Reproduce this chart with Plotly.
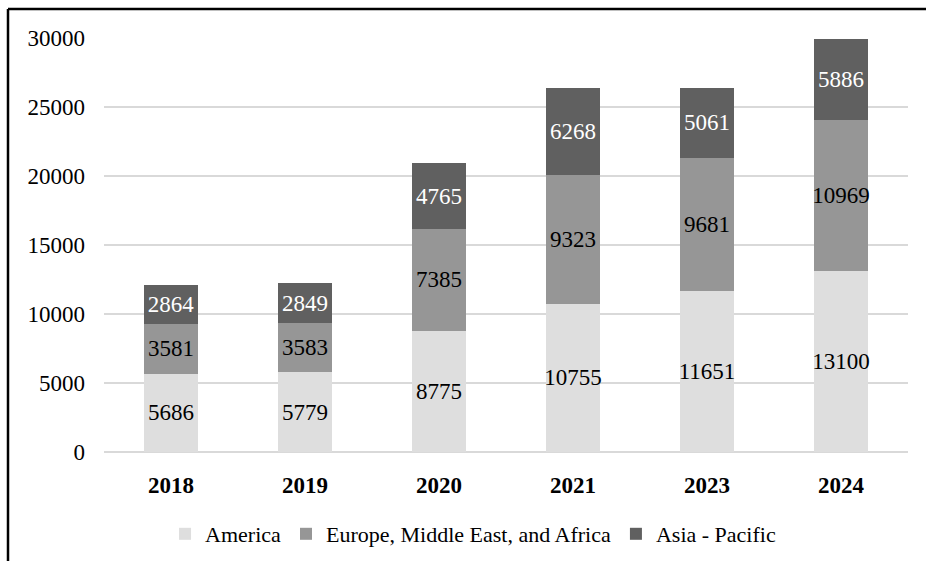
import plotly.graph_objects as go

years = ["2018", "2019", "2020", "2021", "2023", "2024"]
america = [5686, 5779, 8775, 10755, 11651, 13100]
emea = [3581, 3583, 7385, 9323, 9681, 10969]
apac = [2864, 2849, 4765, 6268, 5061, 5886]
y_ticks = [0, 5000, 10000, 15000, 20000, 25000, 30000]
y_tick_text = ["0", "5000", "10000", "15000", "20000", "25000", "30000"]

series = [
    ("America", america, "#dedede", "#000000"),
    ("Europe, Middle East, and Africa", emea, "#969696", "#000000"),
    ("Asia - Pacific", apac, "#606060", "#ffffff"),
]

FONT = "Liberation Serif, Times New Roman, serif"

fig = go.Figure()
for name, vals, color, tcolor in series:
    fig.add_trace(go.Bar(
        x=years, y=vals, name=name,
        marker=dict(color=color, line=dict(width=0)),
        text=[str(v) for v in vals],
        textposition="inside", insidetextanchor="middle",
        textangle=0,
        constraintext="none",
        textfont=dict(family=FONT, size=23, color=tcolor),
        hoverinfo="skip",
    ))

PH = 561 - 38 - 109

fig.update_layout(
    barmode="stack",
    bargap=0.6,
    width=926, height=561,
    margin=dict(l=104, r=18, t=38, b=109, autoexpand=False),
    plot_bgcolor="white", paper_bgcolor="white",
    font=dict(family=FONT, size=22, color="#000000"),
    showlegend=True,
    legend=dict(orientation="h", x=0.459, xanchor="center",
                y=(452 - 534) / PH, yanchor="middle",
                font=dict(family=FONT, size=22), traceorder="normal",
                itemwidth=30),
    xaxis=dict(type="category", showline=False, ticks="",
               tickfont=dict(family=FONT, size=23, color="#000000", weight="bold"),
               ticklabelstandoff=17),
    yaxis=dict(range=[0, 30000], tickvals=y_ticks, ticktext=y_tick_text, showgrid=True,
               gridcolor="#d9d9d9", gridwidth=2, zeroline=True,
               zerolinecolor="#d9d9d9", zerolinewidth=2, showline=False,
               ticks="", tickfont=dict(family=FONT, size=23, color="#000000"),
               ticklabelstandoff=18),
    shapes=[
        dict(type="line", xref="paper", yref="paper",
             x0=(8 - 104) / 804, x1=(8 - 104) / 804,
             y0=-0.35, y1=1 + (38 - 9) / PH,
             line=dict(color="black", width=2.5)),
        dict(type="line", xref="paper", yref="paper",
             x0=(8 - 104) / 804, x1=1.05,
             y0=1 + (38 - 9) / PH, y1=1 + (38 - 9) / PH,
             line=dict(color="black", width=2.5)),
    ],
)

fig.write_html("out.html")
